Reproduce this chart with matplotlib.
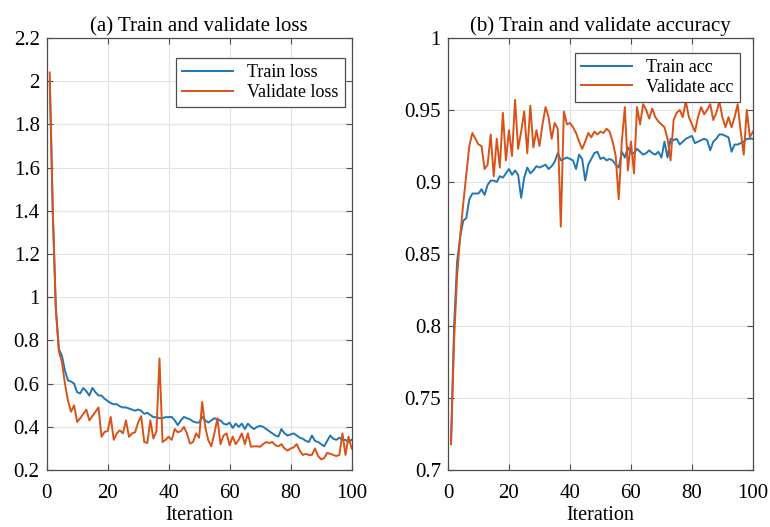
import numpy as np
import matplotlib
matplotlib.use('Agg')
import matplotlib.pyplot as plt
from matplotlib.ticker import FuncFormatter

plt.rcParams['font.family'] = ['Liberation Serif', 'DejaVu Serif']

iterations = list(range(1, 101))

train_loss = [2.00, 1.40, 0.95, 0.76, 0.73, 0.66, 0.615, 0.61, 0.60, 0.56,
              0.555, 0.58, 0.565, 0.545, 0.58, 0.56, 0.545, 0.545, 0.53, 0.52,
              0.51, 0.505, 0.505, 0.495, 0.49, 0.49, 0.485, 0.48, 0.475, 0.48,
              0.475, 0.46, 0.465, 0.455, 0.445, 0.445, 0.44, 0.44, 0.445, 0.445,
              0.446, 0.43, 0.408, 0.43, 0.446, 0.44, 0.435, 0.425, 0.42, 0.42,
              0.446, 0.43, 0.42, 0.43, 0.44, 0.435, 0.43, 0.415, 0.41, 0.42,
              0.395, 0.415, 0.40, 0.415, 0.39, 0.415, 0.40, 0.39, 0.40, 0.405,
              0.40, 0.39, 0.38, 0.37, 0.36, 0.355, 0.39, 0.37, 0.36, 0.365,
              0.37, 0.36, 0.35, 0.345, 0.335, 0.33, 0.36, 0.335, 0.33, 0.32,
              0.31, 0.335, 0.36, 0.345, 0.34, 0.35, 0.34, 0.34, 0.33, 0.34]

val_loss = [2.04, 1.40, 0.95, 0.75, 0.70, 0.60, 0.52, 0.47, 0.50, 0.423,
            0.44, 0.46, 0.48, 0.43, 0.45, 0.47, 0.49, 0.354, 0.377, 0.38,
            0.446, 0.34, 0.37, 0.384, 0.37, 0.43, 0.354, 0.37, 0.375, 0.42,
            0.45, 0.33, 0.325, 0.43, 0.346, 0.38, 0.717, 0.33, 0.34, 0.354,
            0.34, 0.39, 0.375, 0.38, 0.40, 0.37, 0.323, 0.33, 0.37, 0.35,
            0.515, 0.40, 0.338, 0.31, 0.37, 0.44, 0.32, 0.36, 0.37, 0.315,
            0.355, 0.32, 0.34, 0.37, 0.32, 0.37, 0.308, 0.31, 0.31, 0.308,
            0.32, 0.33, 0.325, 0.33, 0.315, 0.31, 0.32, 0.30, 0.29, 0.30,
            0.305, 0.32, 0.29, 0.27, 0.275, 0.27, 0.27, 0.30, 0.265, 0.25,
            0.255, 0.28, 0.275, 0.27, 0.265, 0.27, 0.37, 0.27, 0.355, 0.30]

train_acc = [0.72, 0.80, 0.845, 0.862, 0.873, 0.875, 0.888, 0.892, 0.892, 0.892,
             0.895, 0.891, 0.898, 0.901, 0.901, 0.900, 0.904, 0.903, 0.906, 0.909,
             0.905, 0.908, 0.905, 0.889, 0.903, 0.910, 0.906, 0.908, 0.911, 0.910,
             0.911, 0.912, 0.909, 0.911, 0.914, 0.920, 0.915, 0.916, 0.917, 0.916,
             0.915, 0.909, 0.919, 0.916, 0.901, 0.912, 0.916, 0.920, 0.921, 0.916,
             0.917, 0.915, 0.916, 0.915, 0.912, 0.910, 0.921, 0.917, 0.924, 0.920,
             0.920, 0.923, 0.921, 0.919, 0.920, 0.922, 0.920, 0.919, 0.921, 0.917,
             0.928, 0.917, 0.930, 0.929, 0.930, 0.926, 0.928, 0.930, 0.931, 0.932,
             0.927, 0.928, 0.929, 0.930, 0.929, 0.922, 0.928, 0.930, 0.933, 0.933,
             0.932, 0.931, 0.921, 0.926, 0.926, 0.927, 0.928, 0.930, 0.930, 0.930]

val_acc = [0.718, 0.79, 0.835, 0.862, 0.885, 0.905, 0.925, 0.934, 0.930, 0.926,
           0.925, 0.909, 0.912, 0.933, 0.904, 0.930, 0.910, 0.948, 0.915, 0.936,
           0.918, 0.957, 0.923, 0.935, 0.949, 0.920, 0.953, 0.924, 0.936, 0.925,
           0.940, 0.952, 0.945, 0.930, 0.941, 0.937, 0.869, 0.949, 0.940, 0.941,
           0.938, 0.934, 0.928, 0.923, 0.928, 0.934, 0.931, 0.935, 0.933, 0.935,
           0.934, 0.937, 0.935, 0.928, 0.918, 0.888, 0.928, 0.952, 0.908, 0.928,
           0.906, 0.952, 0.940, 0.954, 0.950, 0.944, 0.951, 0.945, 0.942, 0.940,
           0.938, 0.930, 0.915, 0.943, 0.948, 0.950, 0.945, 0.956, 0.945, 0.940,
           0.935, 0.945, 0.952, 0.947, 0.950, 0.954, 0.943, 0.948, 0.956, 0.945,
           0.938, 0.945, 0.938, 0.945, 0.954, 0.935, 0.919, 0.950, 0.931, 0.935]

blue = '#1f77b4'
orange = '#D95319'
frame = '#4d4d4d'

fmt = FuncFormatter(lambda v, pos: '%g' % round(v, 4))


def style_axes(ax, title, yticks):
    ax.set_xlim(0, 100)
    ax.set_xticks([0, 20, 40, 60, 80, 100])
    ax.set_yticks(yticks)
    ax.set_ylim(yticks[0], yticks[-1])
    ax.yaxis.set_major_formatter(fmt)
    ax.grid(True, color='#e3e3e3', linewidth=0.8)
    ax.set_axisbelow(True)
    ax.tick_params(direction='in', top=True, right=True, labelsize=15,
                   length=4, color=frame)
    ax.tick_params(axis='x', pad=10)
    ax.tick_params(axis='y', pad=5)
    for s in ax.spines.values():
        s.set_color(frame)
        s.set_linewidth(0.9)
    ax.set_title(title, fontsize=15, pad=5)
    ax.set_xlabel('Iteration', fontsize=14.5, labelpad=2)


def add_legend(ax, anchor):
    leg = ax.legend(loc='upper right', bbox_to_anchor=anchor, fontsize=13,
                    handlelength=2.8, handletextpad=0.8, fancybox=False,
                    framealpha=1, edgecolor=frame, borderpad=0.35,
                    labelspacing=0.15, borderaxespad=0)
    leg.get_frame().set_linewidth(0.9)
    return leg


fig = plt.figure(figsize=(7.7, 5.27), dpi=100)
ax1 = fig.add_axes([0.0606, 0.108, 0.396, 0.820])
ax2 = fig.add_axes([0.5818, 0.108, 0.396, 0.820])

ax1.plot(iterations, train_loss, color=blue, linewidth=1.4, label='Train loss')
ax1.plot(iterations, val_loss, color=orange, linewidth=1.4, label='Validate loss')
style_axes(ax1, '(a) Train and validate loss',
           [0.2, 0.4, 0.6, 0.8, 1.0, 1.2, 1.4, 1.6, 1.8, 2.0, 2.2])
add_legend(ax1, (0.978, 0.954))

ax2.plot(iterations, train_acc, color=blue, linewidth=1.4, label='Train acc')
ax2.plot(iterations, val_acc, color=orange, linewidth=1.4, label='Validate acc')
style_axes(ax2, '(b) Train and validate accuracy',
           [0.7, 0.75, 0.8, 0.85, 0.9, 0.95, 1.0])
add_legend(ax2, (0.958, 0.966))

fig.savefig('out.png', dpi=100)
